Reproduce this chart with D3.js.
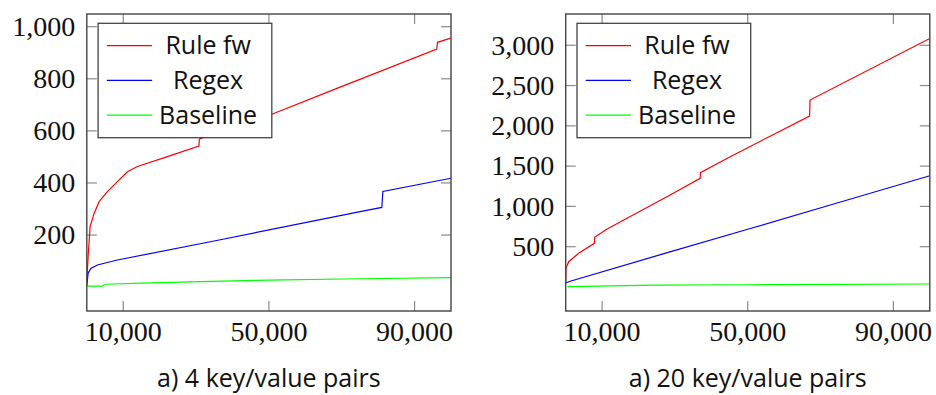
<!DOCTYPE html>
<html><head><meta charset="utf-8">
<script src="https://cdn.jsdelivr.net/npm/d3@7"></script>
<style>body{margin:0;background:#fff}svg{display:block}
.tk{font-family:"Liberation Serif","Times New Roman","DejaVu Serif",serif;font-size:28px;fill:#111}
.ss{font-family:"Open Sans",sans-serif;font-size:25px;fill:#111}
</style>
</head><body>
<svg id="chart" width="936" height="395"></svg>
<script>
// ---- data ----
const seriesNames = ["Rule fw", "Regex", "Baseline"];
const xTicks = [10000, 50000, 90000];
const yTicks4 = [200, 400, 600, 800, 1000];
const yTicks20 = [500, 1000, 1500, 2000, 2500, 3000];
const captions = ["a) 4 key/value pairs", "a) 20 key/value pairs"];

// 4 key/value pairs
const ruleFw4X = [0, 360, 900, 2000, 3380, 5660, 8400, 11150, 13900, 22130, 30800, 30900, 32200, 50800, 69550, 96100, 96300, 100000];
const ruleFw4Y = [20, 117, 232, 283, 328, 367, 405, 443, 463, 501, 542, 568, 576, 664, 768, 914, 940, 956];
const regex4X = [0, 360, 1100, 2900, 8400, 34950, 75040, 81000, 81300, 100000];
const regex4Y = [5, 53, 72, 85, 104, 177, 290, 306, 367, 418];
const baseline4X = [0, 4300, 5100, 15000, 31000, 50000, 75000, 100000];
const baseline4Y = [4, 4, 11, 15, 21, 27, 32, 36];

// 20 key/value pairs
const ruleFw20X = [0, 80, 820, 3570, 7870, 7950, 11270, 15950, 28680, 36930, 37000, 45180, 66980, 67100, 100000];
const ruleFw20Y = [66, 232, 314, 418, 542, 617, 716, 831, 1141, 1348, 1418, 1617, 2122, 2320, 3085];
const regex20X = [0, 1000, 26500, 50000, 75000, 100000];
const regex20Y = [50, 68, 408, 716, 1048, 1381];
const baseline20X = [500, 25000, 50000, 75000, 100000];
const baseline20Y = [5, 22, 28, 33, 37];

const colors = ["#ff0000", "#0000ff", "#00ff00"];
const zip = (xs, ys) => xs.map((x, i) => [x, ys[i]]);

const panels = [
  { left: 86.8, right: 451, yDomain: [-91.8, 1048.8], yTicks: yTicks4, caption: captions[0],
    series: [zip(ruleFw4X, ruleFw4Y), zip(regex4X, regex4Y), zip(baseline4X, baseline4Y)] },
  { left: 565.7, right: 929.8, yDomain: [-298, 3388], yTicks: yTicks20, caption: captions[1],
    series: [zip(ruleFw20X, ruleFw20Y), zip(regex20X, regex20Y), zip(baseline20X, baseline20Y)] }
];

const svg = d3.select("#chart");
const plotTop = 14, plotBottom = 311;
const fmt = d3.format(",");

panels.forEach(p => {
  const x = d3.scaleLinear().domain([0, 100000]).range([p.left, p.right]);
  const y = d3.scaleLinear().domain(p.yDomain).range([plotBottom, plotTop]);
  const g = svg.append("g");
  const clipId = "clip" + Math.round(p.left);
  g.append("clipPath").attr("id", clipId).append("rect")
    .attr("x", p.left).attr("y", plotTop).attr("width", p.right - p.left).attr("height", plotBottom - plotTop);

  const tl = 10;
  xTicks.forEach(t => {
    g.append("line").attr("x1", x(t)).attr("x2", x(t)).attr("y1", plotBottom).attr("y2", plotBottom - tl)
      .attr("stroke", "#8a8a8a").attr("stroke-width", 1.2);
    g.append("line").attr("x1", x(t)).attr("x2", x(t)).attr("y1", plotTop).attr("y2", plotTop + tl)
      .attr("stroke", "#8a8a8a").attr("stroke-width", 1.2);
    g.append("text").attr("class", "tk").attr("x", x(t)).attr("y", 341).attr("text-anchor", "middle").text(fmt(t));
  });
  p.yTicks.forEach(t => {
    g.append("line").attr("x1", p.left).attr("x2", p.left + tl).attr("y1", y(t)).attr("y2", y(t))
      .attr("stroke", "#8a8a8a").attr("stroke-width", 1.2);
    g.append("line").attr("x1", p.right).attr("x2", p.right - tl).attr("y1", y(t)).attr("y2", y(t))
      .attr("stroke", "#8a8a8a").attr("stroke-width", 1.2);
    g.append("text").attr("class", "tk").attr("x", p.left - 11.5).attr("y", y(t)).attr("dy", "0.33em")
      .attr("text-anchor", "end").text(fmt(t));
  });

  const line = d3.line().x(d => x(d[0])).y(d => y(d[1]));
  p.series.forEach((s, i) => {
    g.append("path").attr("d", line(s)).attr("fill", "none").attr("stroke", colors[i])
      .attr("stroke-width", 1.2).attr("clip-path", `url(#${clipId})`);
  });

  g.append("rect").attr("x", p.left).attr("y", plotTop).attr("width", p.right - p.left).attr("height", plotBottom - plotTop)
    .attr("fill", "none").attr("stroke", "#444").attr("stroke-width", 1.4);

  const lx = p.left + 11.3, ly = plotTop + 9.3, lw = 173.7, lh = 114.4;
  const lg = g.append("g");
  lg.append("rect").attr("x", lx).attr("y", ly).attr("width", lw).attr("height", lh)
    .attr("fill", "#fff").attr("stroke", "#444").attr("stroke-width", 1.3);
  seriesNames.forEach((n, i) => {
    const yy = ly + 22.4 + i * 34.7;
    lg.append("line").attr("x1", lx + 8.7).attr("x2", lx + 54).attr("y1", yy).attr("y2", yy)
      .attr("stroke", colors[i]).attr("stroke-width", 1.2);
    lg.append("text").attr("class", "ss").attr("x", lx + 110).attr("y", yy + 8.6)
      .attr("text-anchor", "middle").text(n);
  });

  g.append("text").attr("class", "ss").attr("x", (p.left + p.right) / 2).attr("y", 387)
    .attr("text-anchor", "middle").text(p.caption);
});
</script>
</body></html>
